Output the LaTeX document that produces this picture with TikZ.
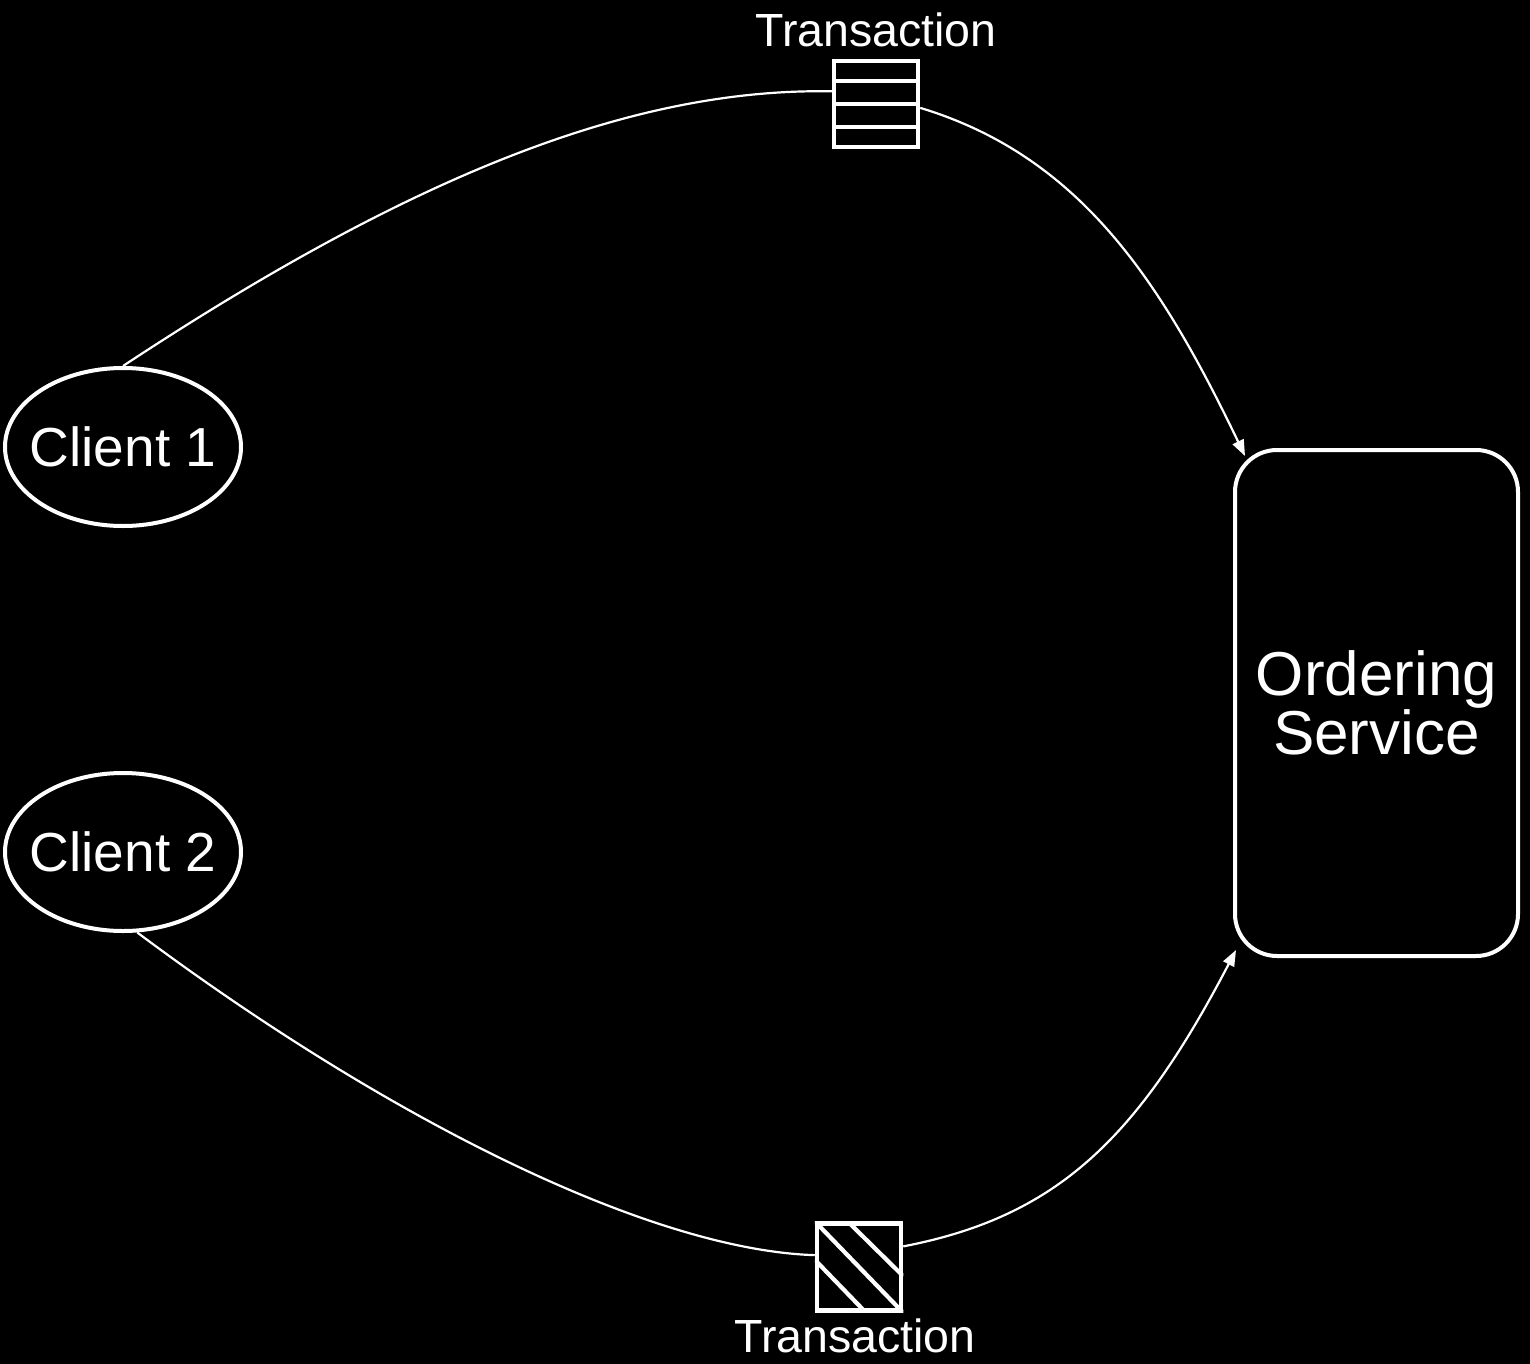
\documentclass[tikz,border=0pt]{standalone}
\usepackage{fontspec}
\setmainfont{Liberation Sans}
\usetikzlibrary{arrows.meta,calc,shapes.geometric}

\tikzset{
  client/.style={ellipse, draw=white, line width=4pt, minimum width=236pt,
    minimum height=158pt, inner sep=0pt, text=white,
    font=\fontsize{55}{60}\selectfont},
  service/.style={rectangle, rounded corners=42pt, draw=white, line width=4pt,
    minimum width=283pt, minimum height=506pt, inner sep=0pt, text=white,
    align=center, font=\fontsize{62}{52}\selectfont},
  txbox/.style={rectangle, draw=white, line width=4.5pt, minimum width=84pt,
    minimum height=86pt, inner sep=0pt},
  txline/.style={white, line width=4.2pt},
  txlabel/.style={text=white, anchor=base, inner sep=0pt,
    font=\fontsize{46.5}{50}\selectfont},
  flow/.style={white, line width=2.2pt},
  flowarrow/.style={flow, -{Triangle[length=16pt,width=12pt]}},
}

\begin{document}
\begin{tikzpicture}[x=1pt,y=-1pt]
  % canvas
  \fill[black] (0,0) rectangle (1530,1364);
  \useasboundingbox (0,0) rectangle (1530,1364);

  % clients and ordering service
  \node[client] (c1) at (123,447) {\makebox[0pt]{Client 1}};
  \node[client] (c2) at (123,852) {\makebox[0pt]{Client 2}};
  \node[service] (os) at (1376.5,703) {Ordering\\Service};

  % striped transaction
  \node[txbox] (t1) at (876,104) {};
  \foreach \f in {0.25,0.5,0.75}
    \draw[txline] ($(t1.north west)!\f!(t1.south west)$) -- ($(t1.north east)!\f!(t1.south east)$);
  \node[txlabel] (l1) at (876,47) {Transaction};

  % hatched transaction
  \node[txbox, minimum height=87pt] (t2) at (859,1267) {};
  \begin{scope}
    \clip (t2.north west) rectangle (t2.south east);
    \draw[txline] (t2.north west) -- (t2.south east);
    \draw[txline] ($(t2.north west)!0.37!(t2.north east)$) -- ($(t2.north east)!0.6!(t2.south east)$);
    \draw[txline] ($(t2.north west)!0.42!(t2.south west)$) -- ($(t2.south west)!0.58!(t2.south east)$);
  \end{scope}
  \node[txlabel] (l2) at (855,1352) {Transaction};

  % anchor points on the rounded corners of the service box
  \coordinate (in1) at ($(os.north west)+(12,8)$);
  \coordinate (in2) at ($(os.south west)+(3,-8)$);

  % connectors
  \draw[flow] (c1.north) .. controls (423,168) and (640,88) .. (t1.164);
  \draw[flowarrow] (t1.-5) .. controls (1079,156) and (1160,279) .. (in1);
  \draw[flow] (c2.-80) .. controls (387,1119) and (650,1250) .. (t2.165);
  \draw[flowarrow] (t2.25) .. controls (1056,1217) and (1137,1140) .. (in2);
\end{tikzpicture}
\end{document}
